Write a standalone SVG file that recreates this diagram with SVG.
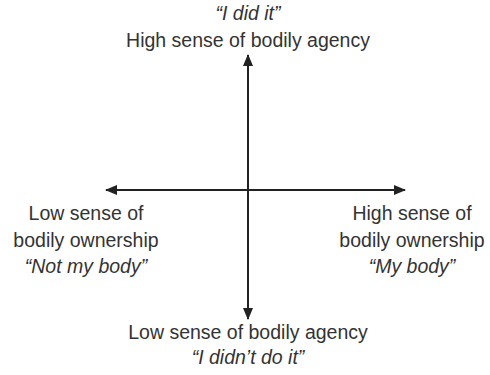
<svg xmlns="http://www.w3.org/2000/svg" width="490" height="375" viewBox="0 0 490 375">
<style>
text{font-family:"Liberation Sans",Arial,sans-serif;font-size:19.5px;fill:#333;text-anchor:middle}
.q{font-style:italic}
.ax{stroke:#222;stroke-width:2;fill:none}
</style>
<defs>
<marker id="a" viewBox="0 0 12 10" refX="11" refY="5" markerWidth="12" markerHeight="10" orient="auto" markerUnits="userSpaceOnUse">
<path d="M0,0 L12,5 L0,10 Z" fill="#222"/>
</marker>
</defs>
<rect width="490" height="375" fill="#fff"/>
<g id="connectors">
<line class="ax" x1="248" y1="190" x2="248" y2="55" marker-end="url(#a)"/>
<line class="ax" x1="248" y1="190" x2="248" y2="319" marker-end="url(#a)"/>
<line class="ax" x1="248" y1="190" x2="106" y2="190" marker-end="url(#a)"/>
<line class="ax" x1="248" y1="190" x2="405" y2="190" marker-end="url(#a)"/>
</g>
<g id="top">
<text class="q" x="248" y="20">“I did it”</text>
<text x="248" y="47">High sense of bodily agency</text>
</g>
<g id="left">
<text x="86" y="220">Low sense of</text>
<text x="86" y="247">bodily ownership</text>
<text class="q" x="86" y="273">“Not my body”</text>
</g>
<g id="right">
<text x="412" y="220">High sense of</text>
<text x="412" y="247">bodily ownership</text>
<text class="q" x="412" y="273">“My body”</text>
</g>
<g id="bottom">
<text x="248" y="339">Low sense of bodily agency</text>
<text class="q" x="248" y="364">“I didn’t do it”</text>
</g>
</svg>
